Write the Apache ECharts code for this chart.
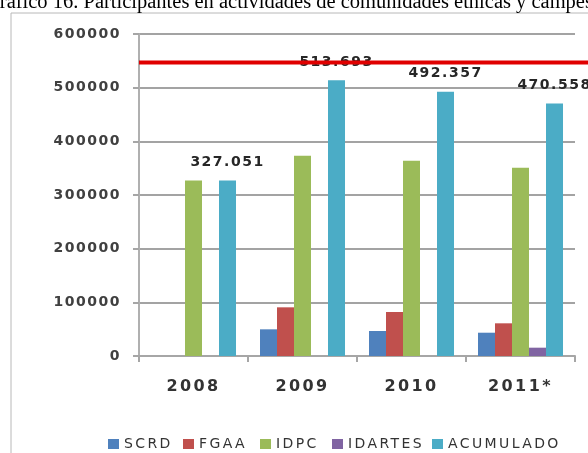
<!DOCTYPE html>
<html>
<head>
<meta charset="utf-8">
<script src="https://cdn.jsdelivr.net/npm/echarts@6/dist/echarts.min.js"></script>
<style>
html,body{margin:0;padding:0;background:#fff;overflow:hidden;width:588px;height:453px;}
#c{width:620px;height:453px;}
</style>
</head>
<body>
<div id="c"></div>
<script>
// ---- data ----
const titleText = 'Gráfico 16. Participantes en actividades de comunidades étnicas y campesinas';
const categories = ['2008', '2009', '2010', '2011*'];
const seriesNames = ['SCRD', 'FGAA', 'IDPC', 'IDARTES', 'ACUMULADO'];
const scrd = [null, 49700, 46600, 43400];
const fgaa = [null, 90700, 82000, 60900];
const idpc = [327051, 373300, 363800, 350800];
const idartes = [null, null, null, 15500];
const acumulado = [327051, 513693, 492357, 470558];
const targetValue = 547000;
const yTicks = [0, 100000, 200000, 300000, 400000, 500000, 600000];

// ---- letter spacing to mimic the wide text of the reference ----
(function () {
  const P = CanvasRenderingContext2D.prototype;
  if (!('letterSpacing' in P)) return;
  const orig = P.fillText;
  P.fillText = function (t, x, y, m) {
    const f = this.font || '';
    let s = 0;
    if (/Serif/i.test(f) && !/Sans/i.test(f)) s = 0;
    else if (/bold|700/.test(f) && /16px/.test(f)) s = 2.4;
    else if (/bold|700/.test(f) && /14px/.test(f)) s = 1.5;
    else if (/14px/.test(f)) s = 2.4;
    this.letterSpacing = s + 'px';
    const r = (m === undefined) ? orig.call(this, t, x, y) : orig.call(this, t, x, y, m);
    this.letterSpacing = '0px';
    return r;
  };
})();

const colors = ['#4F81BD', '#C0504D', '#9BBB59', '#8064A2', '#4BACC6'];
const FONT = 'DejaVu Sans';
const fmt = v => String(v).replace(/\B(?=(\d{3})+(?!\d))/g, '.');
const legendLeft = [108, 183, 260, 332, 432];

const values = [scrd, fgaa, idpc, idartes, acumulado];
const barSeries = seriesNames.map((n, i) => ({
  name: n,
  type: 'bar',
  xAxisIndex: 0, yAxisIndex: 0,
  data: values[i],
  barGap: '0%',
  barCategoryGap: '22%',
  itemStyle: { color: colors[i] },
  label: i === 4 ? {
    show: true, position: 'top', distance: 11,
    formatter: p => fmt(p.value),
    fontFamily: FONT, fontSize: 14, fontWeight: 'bold', color: '#262626'
  } : { show: false },
  labelLayout: i === 4 ? (p => ({
    x: p.rect.x + p.rect.width / 2,
    y: p.rect.y - 18,
    align: 'center',
    verticalAlign: 'middle'
  })) : undefined
}));

const chart = echarts.init(document.getElementById('c'), null, { renderer: 'canvas' });
chart.setOption({
  animation: false,
  backgroundColor: '#fff',
  color: colors,
  title: {
    text: titleText,
    left: -15, top: -8, padding: 0,
    textStyle: { fontFamily: 'Liberation Serif', fontSize: 20.5, fontWeight: 'normal', color: '#000' }
  },
  graphic: [{
    type: 'rect', silent: true, z: -1,
    shape: { x: 11, y: 13, width: 700, height: 600 },
    style: { fill: 'none', stroke: '#b8b8b8', lineWidth: 1 }
  }],
  legend: seriesNames.map((n, i) => ({
    data: [n], left: legendLeft[i], top: 437, padding: 0,
    itemWidth: 11, itemHeight: 10, icon: 'rect', selectedMode: false,
    textStyle: { fontFamily: FONT, fontSize: 14, color: '#333' }
  })),
  grid: [
    { left: 139, right: 45, top: 34, bottom: 97 },
    { left: 139, right: 32, top: 34, bottom: 97 }
  ],
  xAxis: [{
    type: 'category', gridIndex: 0, data: categories,
    axisLine: { lineStyle: { color: '#a6a6a6', width: 2 } },
    axisTick: { show: true, length: 6, lineStyle: { color: '#a6a6a6', width: 2 } },
    axisLabel: { fontFamily: FONT, fontSize: 16, fontWeight: 'bold', color: '#333', margin: 23 }
  }, {
    type: 'value', gridIndex: 1, min: 0, max: 1, show: false
  }],
  yAxis: [{
    type: 'value', gridIndex: 0, min: yTicks[0], max: yTicks[yTicks.length - 1], interval: yTicks[1] - yTicks[0],
    axisLine: { show: true, lineStyle: { color: '#b0b0b0', width: 2 } },
    axisTick: { show: true, length: 6, lineStyle: { color: '#a6a6a6', width: 2 } },
    splitLine: { lineStyle: { color: '#a3a3a3', width: 2 } },
    axisLabel: { fontFamily: FONT, fontSize: 14, fontWeight: 'bold', color: '#404040', margin: 18,
      formatter: v => String(v) }
  }, {
    type: 'value', gridIndex: 1, min: 0, max: 600000, show: false
  }],
  series: barSeries.concat([{
    name: 'Meta', type: 'line', xAxisIndex: 1, yAxisIndex: 1, silent: true,
    symbol: 'none', data: [[0, targetValue], [1, targetValue]],
    lineStyle: { color: '#e00000', width: 4 }, z: 5
  }])
});
</script>
</body>
</html>
